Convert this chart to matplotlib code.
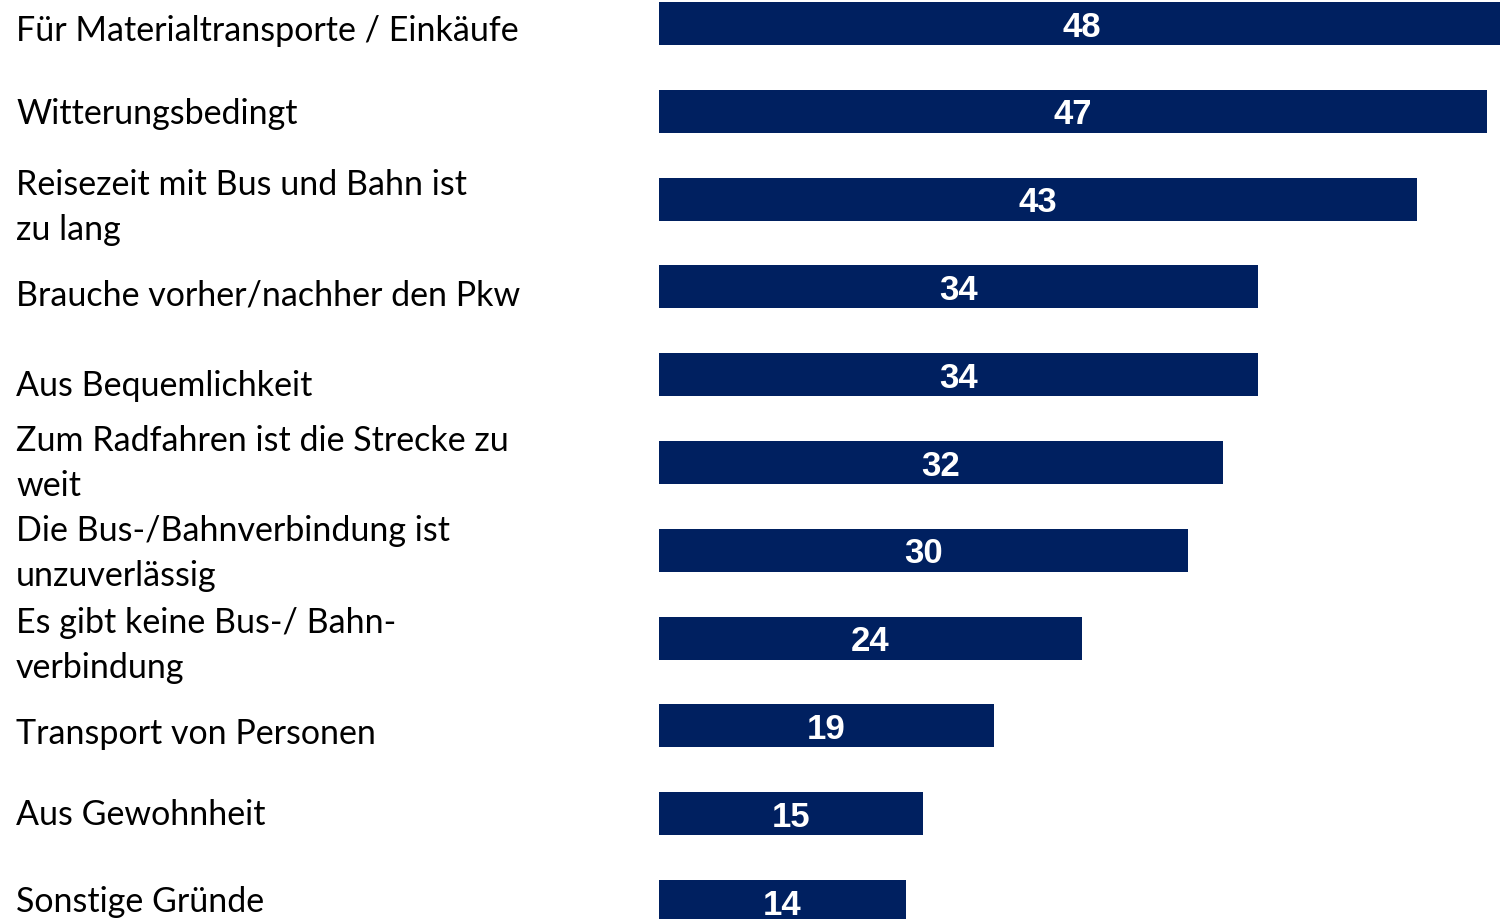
import matplotlib.pyplot as plt
from matplotlib.transforms import blended_transform_factory

labels = [
    "Für Materialtransporte / Einkäufe",
    "Witterungsbedingt",
    "Reisezeit mit Bus und Bahn ist\nzu lang",
    "Brauche vorher/nachher den Pkw",
    "Aus Bequemlichkeit",
    "Zum Radfahren ist die Strecke zu\nweit",
    "Die Bus-/Bahnverbindung ist\nunzuverlässig",
    "Es gibt keine Bus-/ Bahn-\nverbindung",
    "Transport von Personen",
    "Aus Gewohnheit",
    "Sonstige Gründe",
]
values = [48, 47, 43, 34, 34, 32, 30, 24, 19, 15, 14]
# small vertical nudges of the category texts (in bar units)
label_shift = [0.07, 0.02, 0.08, 0.09, 0.12, 0.0, 0.03, 0.07, 0.08, 0.0, 0.0]

navy = "#002060"

fig = plt.figure(figsize=(15, 9.2), dpi=100)
ax = fig.add_axes([659 / 1500, 0, 841 / 1500, 1])

y = list(range(len(values)))
ax.barh(y, values, height=0.49, color=navy)
ax.set_xlim(0, 47.73)
ax.set_ylim(10.2, -0.28)
ax.axis("off")

for i, v in enumerate(values):
    ax.text(v / 2, i + 0.03, str(v), ha="center", va="center", color="white",
            fontsize=25, fontweight="bold", family="Liberation Sans")

tr = blended_transform_factory(fig.transFigure, ax.transData)
for i, lab in enumerate(labels):
    ax.text(16 / 1500, i + label_shift[i], lab, transform=tr, ha="left", va="center",
            fontsize=24.5, family="Lato", linespacing=1.5, color="black")

fig.savefig("out.png")
